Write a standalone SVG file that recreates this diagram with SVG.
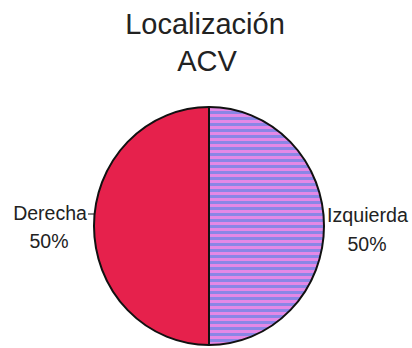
<svg xmlns="http://www.w3.org/2000/svg" width="412" height="348" viewBox="0 0 412 348">
<defs>
<pattern id="stripes" patternUnits="userSpaceOnUse" x="0" y="0" width="6" height="6">
<rect width="6" height="6" fill="#8a86e6"/>
<rect y="0" width="6" height="3" fill="#e488e6"/>
</pattern>
<style>
text{font-family:"Liberation Sans",Arial,sans-serif;fill:#222}
.t{font-size:29px}
.l{font-size:19.5px}
.edge{stroke:#111;stroke-width:2;fill:none}
</style>
</defs>
<rect width="412" height="348" fill="#fff"/>
<text class="t" x="205" y="34" text-anchor="middle">Localización</text>
<text class="t" x="207" y="71" text-anchor="middle">ACV</text>
<g id="derecha">
<path d="M209,107 A115,119 0 0 0 209,345 Z" fill="#e6214c"/>
</g>
<g id="izquierda">
<path d="M209,107 A115,119 0 0 1 209,345 Z" fill="url(#stripes)"/>
</g>
<g id="connectors">
<ellipse class="edge" cx="209" cy="226" rx="115" ry="119"/>
<line class="edge" x1="209" y1="107" x2="209" y2="345"/>
<line stroke="#111" stroke-width="1" x1="88" y1="214" x2="95" y2="214"/>
</g>
<text class="l" x="50" y="220" text-anchor="middle">Derecha</text>
<text class="l" x="49" y="248" text-anchor="middle">50%</text>
<text class="l" x="327" y="222" textLength="81" lengthAdjust="spacingAndGlyphs">Izquierda</text>
<text class="l" x="367" y="251" text-anchor="middle">50%</text>
</svg>
